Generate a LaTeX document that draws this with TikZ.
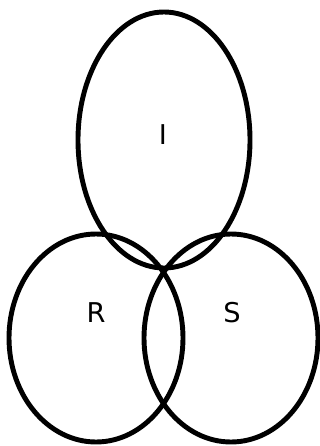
\documentclass[tikz,border=0pt]{standalone}
\usepackage{fontspec}
\setmainfont{DejaVu Sans}
\usepackage{tikz}
\usetikzlibrary{calc}

\begin{document}
\begin{tikzpicture}[x=0.02cm,y=-0.02cm,line join=round]
  \useasboundingbox (0,0) rectangle (320,446);
  \coordinate (CI) at (164,140);
  \coordinate (CR) at (96,338);
  \coordinate (CS) at (231,338);
  \draw[line width=2.8pt] (CI) ellipse [x radius=86,y radius=128];
  \draw[line width=2.8pt] (CR) ellipse [x radius=87,y radius=104];
  \draw[line width=2.8pt] (CS) ellipse [x radius=87,y radius=104];
  \node[font=\fontsize{15.5}{18}\selectfont] (I) at (163,135) {I};
  \node[font=\fontsize{15.5}{18}\selectfont] (R) at (96,313) {R};
  \node[font=\fontsize{15.5}{18}\selectfont] (S) at (232,313) {S};
\end{tikzpicture}
\end{document}
